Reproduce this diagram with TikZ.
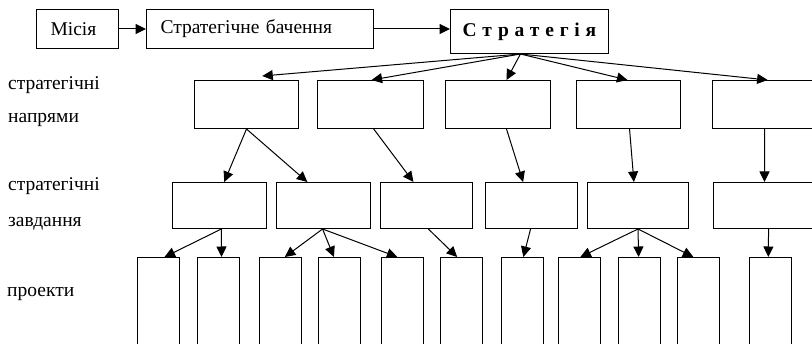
\documentclass[tikz,border=0pt]{standalone}
\usepackage{fontspec}
\setmainfont{Liberation Serif}
\usetikzlibrary{calc,arrows.meta}
% points along the top and bottom edges of a box, as a fraction of its width
\newcommand\tp[2]{($(#1.north west)!#2!(#1.north east)$)}
\newcommand\bt[2]{($(#1.south west)!#2!(#1.south east)$)}
% \bx{name}{left}{top}{width}{height}
\newcommand\bx[5]{\node[box,minimum width=#4pt,minimum height=#5pt] (#1) at (#2,#3) {};}
\begin{document}
\begin{tikzpicture}[x=1pt,y=-1pt,
  box/.style={draw=black, line width=1pt, inner sep=0pt, anchor=north west},
  txtbox/.style={draw=black, line width=1pt, inner xsep=14pt, inner ysep=0pt,
    anchor=north west, align=left, font=\fontsize{19.5}{22}\selectfont},
  arr/.style={draw=black, line width=1pt, -{Triangle[length=10.5pt,width=10pt]}},
  lbl/.style={anchor=base west, inner sep=0pt, font=\fontsize{19.5}{22}\selectfont}]
\useasboundingbox (0,0) rectangle (812,344);

% top chain
\node[txtbox, minimum height=39pt, text width=54pt] (mis) at (36,9) {Місія};
\node[txtbox, minimum height=39pt, text width=199pt] (vis) at (146,9) {Стратегічне бачення};
\node[box, minimum width=158pt, minimum height=44pt,
  font=\fontsize{19.5}{22}\selectfont\bfseries\addfontfeature{LetterSpace=30}] (str) at (450,9) {Стратегія};
\draw[arr] (mis.east) -- (mis.east -| vis.west);
\draw[arr] (vis.east) -- (vis.east -| str.west);

% row labels
\node[lbl] (l1) at (8,90) {стратегічні};
\node[lbl] (l2) at (8,123) {напрями};
\node[lbl] (l3) at (8,191) {стратегічні};
\node[lbl] (l4) at (8,227) {завдання};
\node[lbl] (l5) at (7,297) {проекти};

% strategic directions
\bx{n1}{194}{80}{104}{48}
\bx{n2}{317}{80}{106}{48}
\bx{n3}{445}{80}{105}{48}
\bx{n4}{576}{80}{104}{48}
\bx{n5}{712}{80}{104}{48}

% strategic tasks
\bx{t1}{172}{182}{94}{46}
\bx{t2}{276}{182}{94}{46}
\bx{t3}{380}{182}{92}{46}
\bx{t4}{485}{182}{92}{46}
\bx{t5}{587}{182}{101}{46}
\bx{t6}{713}{182}{100}{46}

% projects
\bx{p1}{137}{257}{42}{88}
\bx{p2}{197}{257}{42}{88}
\bx{p3}{259}{257}{42}{88}
\bx{p4}{318}{257}{42}{88}
\bx{p5}{381}{257}{42}{88}
\bx{p6}{440}{257}{42}{88}
\bx{p7}{501}{257}{42}{88}
\bx{p8}{558}{257}{42}{88}
\bx{p9}{618}{257}{42}{88}
\bx{p10}{677}{257}{42}{88}
\bx{p11}{749}{257}{42}{88}

% strategy -> directions
\draw[arr] \bt{str}{0.443} -- ($(n1.north west)!0.65!(n1.north east)+(0,-4)$);
\draw[arr] \bt{str}{0.443} -- \tp{n2}{0.51};
\draw[arr] \bt{str}{0.443} -- \tp{n3}{0.58};
\draw[arr] \bt{str}{0.443} -- \tp{n4}{0.49};
\draw[arr] \bt{str}{0.443} -- \tp{n5}{0.53};

% directions -> tasks
\draw[arr] \bt{n1}{0.5} -- \tp{t1}{0.55};
\draw[arr] \bt{n1}{0.5} -- \tp{t2}{0.33};
\draw[arr] \bt{n2}{0.53} -- \tp{t3}{0.36};
\draw[arr] \bt{n3}{0.58} -- \tp{t4}{0.41};
\draw[arr] \bt{n4}{0.51} -- \tp{t5}{0.46};
\draw[arr] \bt{n5}{0.5} -- \tp{t6}{0.51};

% tasks -> projects
\draw[arr] \bt{t1}{0.52} -- \tp{p1}{0.64};
\draw[arr] \bt{t1}{0.52} -- \tp{p2}{0.57};
\draw[arr] \bt{t2}{0.49} -- \tp{p3}{0.6};
\draw[arr] \bt{t2}{0.49} -- \tp{p4}{0.37};
\draw[arr] \bt{t2}{0.49} -- \tp{p5}{0.38};
\draw[arr] \bt{t3}{0.52} -- \tp{p6}{0.4};
\draw[arr] \bt{t4}{0.49} -- \tp{p7}{0.52};
\draw[arr] \bt{t5}{0.5} -- \tp{p8}{0.52};
\draw[arr] \bt{t5}{0.5} -- \tp{p9}{0.48};
\draw[arr] \bt{t5}{0.5} -- \tp{p10}{0.38};
\draw[arr] \bt{t6}{0.55} -- \tp{p11}{0.45};
\end{tikzpicture}
\end{document}
